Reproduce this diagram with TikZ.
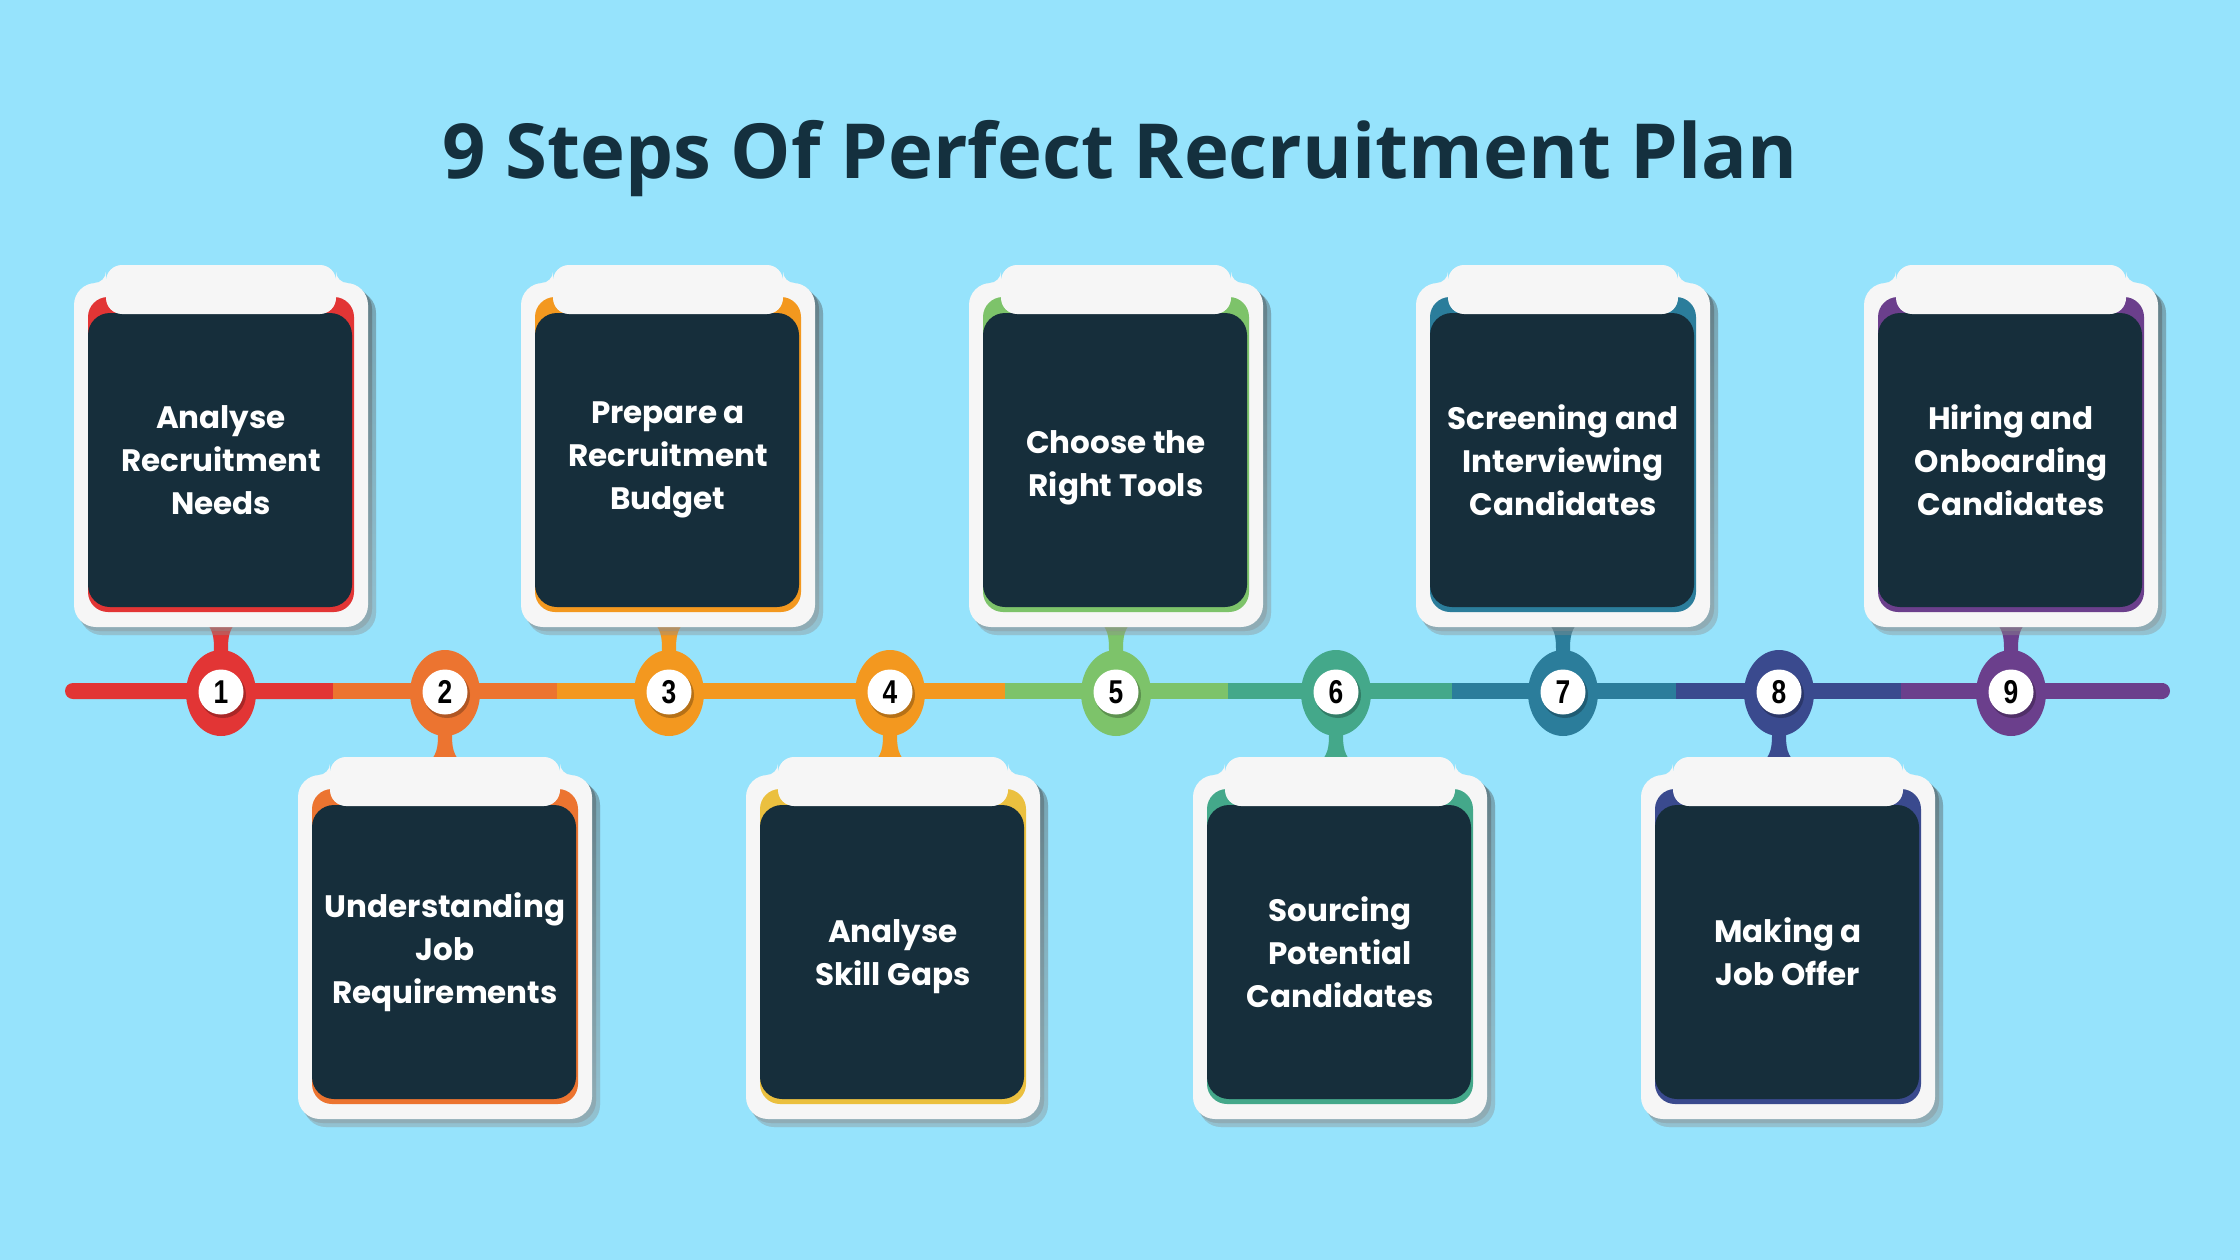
\documentclass[tikz,border=0pt]{standalone}
\usepackage{fontspec}
\setmainfont{Poppins}
\newfontfamily\titlefont{Open Sans}
\newfontfamily\numfont{Liberation Sans}
\definecolor{bg}{HTML}{96E3FC}
\definecolor{ink}{HTML}{14303E}
\definecolor{dark}{HTML}{162E3B}
\definecolor{paper}{HTML}{F6F6F6}
\definecolor{shade}{HTML}{5E9FB8}
\definecolor{k1}{HTML}{E23535}
\definecolor{k2}{HTML}{EC7430}
\definecolor{k3}{HTML}{F3981F}
\definecolor{k4}{HTML}{EBC03F}
\definecolor{k5}{HTML}{7DC36A}
\definecolor{k6}{HTML}{44A88A}
\definecolor{k7}{HTML}{2B7D9B}
\definecolor{k8}{HTML}{3A4A8E}
\definecolor{k9}{HTML}{6B3F8C}
\tikzset{
  cardtext/.style={text=white, align=center, font=\bfseries\fontsize{31}{43}\selectfont, inner sep=0},
  numdisc/.style={circle, fill=white, minimum size=45pt, inner sep=0, font=\numfont\bfseries\fontsize{33}{33}\selectfont, text=black},
  titletext/.style={text=ink, font=\titlefont\bfseries\fontsize{76}{90}\selectfont, inner sep=0}
}
\newcommand\stepcard[4]{% cx, top, layer colour, name
  \begin{scope}[shift={(#1,#2)}]
    \fill[shade, opacity=0.22, rounded corners=22pt] (-141,26) rectangle (155,370);
    \fill[shade, opacity=0.22, rounded corners=22pt] (-144,22) rectangle (151,366);
    \fill[paper, rounded corners=22pt] (-147,18) rectangle (147,362);
    \fill[paper] (-127,6) rectangle (-115,18);
    \fill[paper] (127,6) rectangle (115,18);
    \fill[bg] (-127,6) circle [radius=12pt];
    \fill[bg] (127,6) circle [radius=12pt];
    \fill[#3, rounded corners=20pt] (-133,32) rectangle (133,347);
    \fill[dark, rounded corners=22pt] (-133,48) rectangle (131,342);
    \fill[paper, rounded corners=16pt] (-115,0) rectangle (115,49);
    \coordinate (#4) at (0,195);
  \end{scope}
}
\begin{document}
\begin{tikzpicture}[x=1pt,y=-1pt]
\fill[bg] (0,0) rectangle (2240,1260);
\useasboundingbox (0,0) rectangle (2240,1260);

\node[titletext, anchor=base] (title) at (1120,179) {9 Steps Of Perfect Recruitment Plan};

% timeline
\fill[k1, rounded corners=8pt] (65,683) rectangle (340,699);
\fill[k1] (120,683) rectangle (333,699);
\fill[k2] (333,683) rectangle (557,699);
\fill[k3] (557,683) rectangle (1005,699);
\fill[k5] (1005,683) rectangle (1228,699);
\fill[k6] (1228,683) rectangle (1452,699);
\fill[k7] (1452,683) rectangle (1676,699);
\fill[k8] (1676,683) rectangle (1901,699);
\fill[k9] (1901,683) rectangle (2164,699);
\fill[k9, rounded corners=8pt] (2150,683) rectangle (2170,699);

% stems up (odd steps)
\foreach \px/\lc in {221/k1, 669/k3, 1116/k5, 1563/k7, 2011/k9}{
  \fill[\lc] (\px-20,618) .. controls (\px-7,628) and (\px-7,638) .. (\px-7,652) -- (\px-7,691) -- (\px+7,691) -- (\px+7,652) .. controls (\px+7,638) and (\px+7,628) .. (\px+20,618) -- cycle;
}
% stems down (even steps)
\foreach \px/\lc in {445/k2, 890/k3, 1336/k6, 1779/k8}{
  \fill[\lc] (\px-20,766) .. controls (\px-7,756) and (\px-7,746) .. (\px-7,732) -- (\px-7,691) -- (\px+7,691) -- (\px+7,732) .. controls (\px+7,746) and (\px+7,756) .. (\px+20,766) -- cycle;
}
% bulbs and discs
\foreach \i/\px/\lc in {1/221/k1, 2/445/k2, 3/669/k3, 4/890/k3, 5/1116/k5, 6/1336/k6, 7/1563/k7, 8/1779/k8, 9/2011/k9}{
  \fill[\lc] (\px,693) ellipse [x radius=35pt, y radius=43pt];
  \fill[black, opacity=0.25] (\px+2,695) circle [radius=23pt];
  \node[numdisc] (c\i) at (\px,692) {\scalebox{0.8}[1]{\i}};
}

% cards
\stepcard{221}{265}{k1}{p1}
\stepcard{668}{265}{k3}{p3}
\stepcard{1116}{265}{k5}{p5}
\stepcard{1563}{265}{k7}{p7}
\stepcard{2011}{265}{k9}{p9}
\stepcard{445}{757}{k2}{p2}
\stepcard{893}{757}{k4}{p4}
\stepcard{1340}{757}{k6}{p6}
\stepcard{1788}{757}{k8}{p8}

\node[cardtext] (t1) at (p1) {Analyse\\Recruitment\\Needs};
\node[cardtext] (t3) at (p3) {Prepare a\\Recruitment\\Budget};
\node[cardtext, yshift=-8pt] (t5) at (p5) {Choose the\\Right Tools};
\node[cardtext] (t7) at (p7) {Screening and\\Interviewing\\Candidates};
\node[cardtext] (t9) at (p9) {Hiring and\\Onboarding\\Candidates};
\node[cardtext] (t2) at (p2) {Understanding\\Job\\Requirements};
\node[cardtext, yshift=-5pt] (t4) at (p4) {Analyse\\Skill Gaps};
\node[cardtext] (t6) at (p6) {Sourcing\\Potential\\Candidates};
\node[cardtext] (t8) at (p8) {Making a\\Job Offer};
\end{tikzpicture}
\end{document}
